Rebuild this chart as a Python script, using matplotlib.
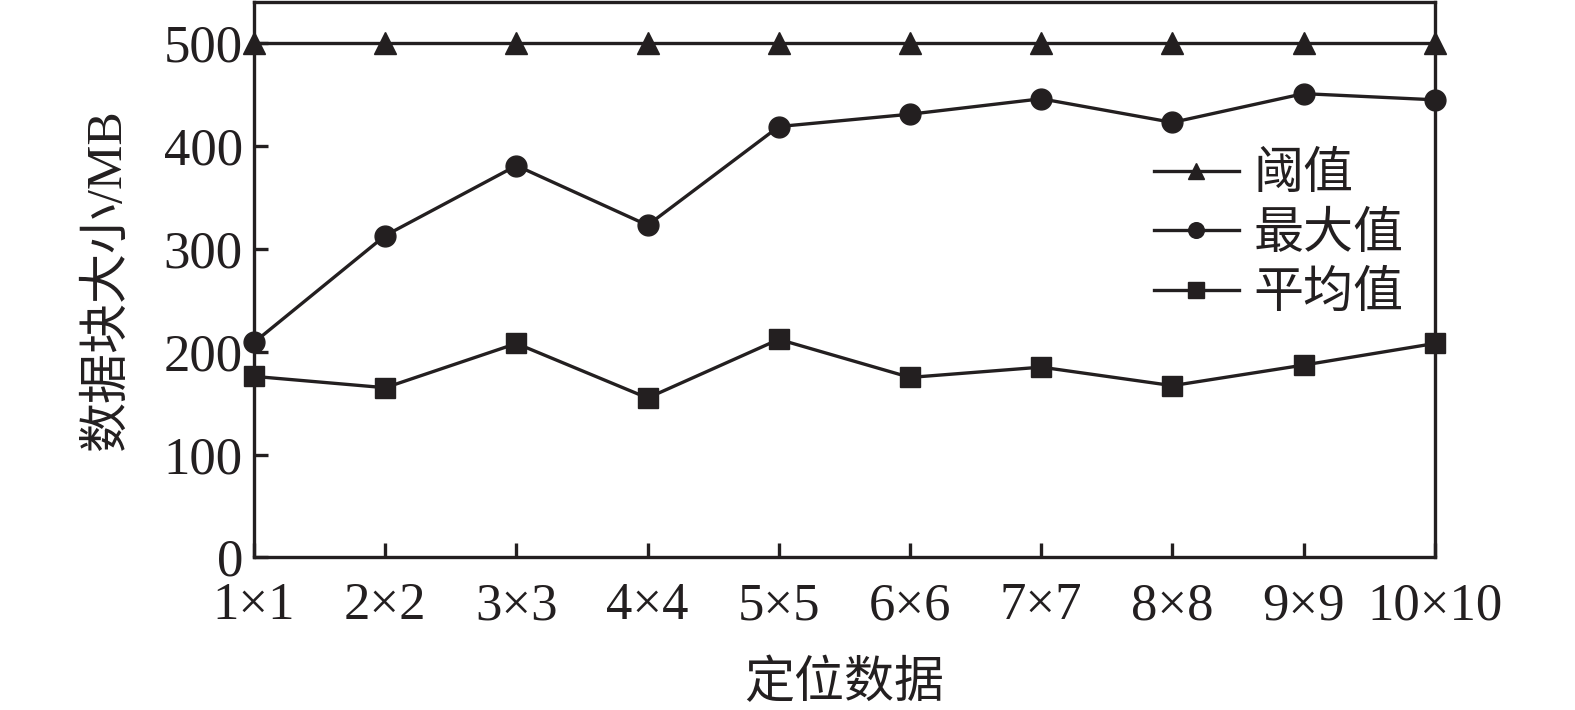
import matplotlib
matplotlib.use("Agg")
import matplotlib.pyplot as plt

# data
categories = ["1×1", "2×2", "3×3", "4×4", "5×5", "6×6", "7×7", "8×8", "9×9", "10×10"]
threshold = [500, 500, 500, 500, 500, 500, 500, 500, 500, 500]
max_vals = [209, 313, 381, 323, 419, 431, 446, 423, 451, 445]
avg_vals = [176, 165, 208, 155, 212, 175, 185, 167, 187, 208]
y_ticks = [0, 100, 200, 300, 400, 500]

serif = ["Liberation Serif", "Noto Sans CJK SC"]
plt.rcParams["font.family"] = serif

fig = plt.figure(figsize=(15.75, 7.1), dpi=100)
ax = fig.add_axes([0.1613, 0.215, 0.911 - 0.1613, 0.997 - 0.215])

x = list(range(len(categories)))
c = "#231f20"
lw = 2.4
ax.plot(x, threshold, color=c, lw=lw, marker="^", ms=16, label="阈值", clip_on=False, zorder=3)
ax.plot(x, max_vals, color=c, lw=lw, marker="o", ms=15, label="最大值", clip_on=False, zorder=3)
ax.plot(x, avg_vals, color=c, lw=lw, marker="s", ms=15, label="平均值", clip_on=False, zorder=3)

ax.set_xlim(0, 9)
ax.set_ylim(0, 540)
ax.set_xticks(x)
ax.set_xticklabels(categories)
ax.set_yticks(y_ticks)
for s in ax.spines.values():
    s.set_linewidth(2.4)
    s.set_color(c)
ax.tick_params(direction="in", length=10, width=2.4, color=c, labelsize=38, pad=8, labelcolor=c)
ax.tick_params(axis="x", pad=18)

ax.set_xlabel("定位数据", fontsize=36, color=c, labelpad=22)
ax.set_ylabel("数据块大小/MB", fontsize=36, color=c, labelpad=24)

leg = ax.legend(loc="upper left", bbox_to_anchor=(0.745, 0.765), frameon=False, fontsize=36,
                handlelength=1.7, handletextpad=0.3, labelspacing=0.26, markerscale=0.75,
                borderaxespad=0)
for t in leg.get_texts():
    t.set_color(c)

fig.savefig("out.png", dpi=100)
